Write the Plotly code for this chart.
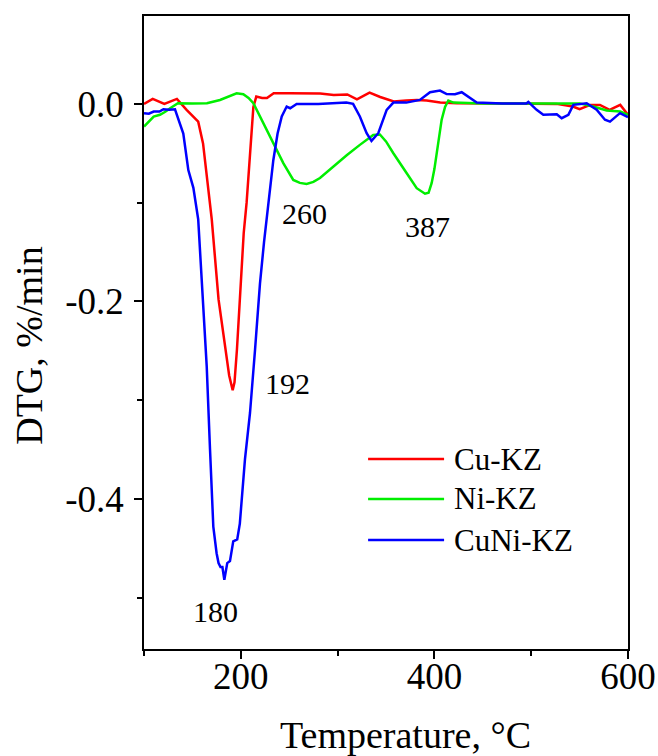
import plotly.graph_objects as go

# ---------------- data ----------------
cu_T = [100, 109, 121, 134, 144, 156, 161, 168, 170, 177, 184, 188, 191.6, 193.5, 196, 199, 203, 206, 208, 211,
        213, 216, 222, 227, 234, 250, 270, 282, 296, 310, 320, 333, 344, 358, 371, 382, 392, 406, 423, 450, 480,
        510, 526, 543, 550, 561, 571, 581, 592, 600]
cu_V = [0.0, 0.005, 0.0, 0.005, -0.006, -0.018, -0.04, -0.097, -0.117, -0.198, -0.249, -0.275, -0.290, -0.282,
        -0.249, -0.198, -0.131, -0.100, -0.07, -0.03, -0.003, 0.0074, 0.006, 0.006, 0.0108, 0.0108, 0.0105, 0.0105,
        0.009, 0.0096, 0.0047, 0.0114, 0.007, 0.0024, 0.0034, 0.004, 0.0034, 0.0014, 0.0007, 0.0005, 0.0005, 0.0,
        0.0, -0.0027, -0.0054, -0.001, -0.001, -0.006, -0.001, -0.011]

ni_T = [100, 105, 110, 116.5, 122, 127, 135, 150, 165, 178.5, 188, 195.7, 202.6, 208, 213, 218, 223.3, 233.6,
        243.9, 254.2, 261, 268, 275, 281.8, 295.6, 309.4, 323, 336.8, 343.7, 350, 357.6, 364, 371.4, 381.7, 390.3,
        394, 397.2, 400, 402.3, 405, 407.5, 411, 414.4, 419.6, 450, 500, 550, 564, 578, 592, 600]
ni_V = [-0.023, -0.018, -0.0128, -0.011, -0.008, -0.0044, 0.0007, 0.0005, 0.0007, 0.004, 0.008, 0.0108, 0.0098,
        0.006, 0.0007, -0.009, -0.0196, -0.0398, -0.060, -0.077, -0.080, -0.081, -0.079, -0.075, -0.063, -0.052,
        -0.0415, -0.0314, -0.031, -0.038, -0.050, -0.06, -0.0702, -0.0854, -0.091, -0.090, -0.080, -0.066, -0.050,
        -0.033, -0.016, -0.003, 0.0034, 0.0013, 0.0005, 0.0005, 0.0005, -0.0027, -0.0067, -0.0078, -0.011]

cuni_T = [100, 105, 110, 116, 120, 126, 132, 135.4, 140.6, 145.8, 151, 156, 159.6, 164.8, 168.2, 171.6, 175, 177,
          179, 181, 183, 185, 186, 188.8, 191, 192.2, 196.3, 199, 204.3, 209.5, 214.7, 219.8, 224, 228.4, 233.6,
          238, 242.3, 247.4, 251, 257.7, 280, 309, 316, 323, 330, 335, 342, 350.7, 357.6, 371, 385, 395.5, 405.8,
          412.7, 421.3, 428.2, 436.8, 443.7, 470, 495, 497, 505.6, 512.5, 520, 526.4, 531.5, 538.4, 543.5, 557.3,
          567.6, 576.2, 581.4, 591.7, 600]
cuni_V = [-0.0094, -0.010, -0.0078, -0.0078, -0.0054, -0.006, -0.0054, -0.016, -0.030, -0.067, -0.085, -0.117,
          -0.182, -0.266, -0.350, -0.428, -0.455, -0.465, -0.469, -0.469, -0.482, -0.47, -0.465, -0.463, -0.45,
          -0.443, -0.441, -0.425, -0.36, -0.313, -0.249, -0.182, -0.14, -0.1, -0.057, -0.03, -0.0128, -0.0027,
          -0.0044, 0.0, 0.0, 0.0013, 0.0, -0.0128, -0.0297, -0.0375, -0.0297, -0.006, 0.0013, 0.0013, 0.004,
          0.0118, 0.0135, 0.010, 0.0097, 0.0118, 0.0057, 0.0013, 0.0005, 0.0005, 0.002, -0.006, -0.011, -0.011,
          -0.0105, -0.0145, -0.011, -0.001, 0.0007, -0.006, -0.016, -0.018, -0.0094, -0.0135]

series_names = ["Cu-KZ", "Ni-KZ", "CuNi-KZ"]
series_colors = ["#ff0000", "#00ee00", "#0000ff"]

peak_labels = ["260", "387", "192", "180"]
peak_T = [266, 393, 248, 174]
peak_V = [-0.111, -0.1246, -0.2835, -0.514]

x_tickvals = [200, 400, 600]
x_ticktext = ["200", "400", "600"]
y_tickvals = [0.0, -0.2, -0.4]
y_ticktext = ["0.0", "-0.2", "-0.4"]

FONT = "Liberation Serif, Times New Roman, serif"

fig = go.Figure()
for T, V, name, col in zip([cu_T, ni_T, cuni_T], [cu_V, ni_V, cuni_V], series_names, series_colors):
    fig.add_trace(go.Scatter(x=T, y=V, mode="lines", name=name,
                             line=dict(color=col, width=2.5), showlegend=False))

# peak annotations
for lab, t, v in zip(peak_labels, peak_T, peak_V):
    fig.add_annotation(x=t, y=v, text=lab, showarrow=False,
                       font=dict(family=FONT, size=30, color="black"),
                       xanchor="center", yanchor="middle")

# custom legend (long sample lines as in the reference)
leg_y = [0.300, 0.237, 0.172]
for name, col, ly in zip(series_names, series_colors, leg_y):
    fig.add_shape(type="line", xref="paper", yref="paper", x0=0.463, x1=0.620, y0=ly, y1=ly,
                  line=dict(color=col, width=2.5))
    fig.add_annotation(xref="paper", yref="paper", x=0.636, y=ly, text=name, showarrow=False,
                       xanchor="left", yanchor="middle",
                       font=dict(family=FONT, size=31, color="black"))

# axis titles
fig.add_annotation(xref="paper", yref="paper", x=0.541, y=-0.136, text="Temperature, °C",
                   showarrow=False, xanchor="center", yanchor="middle",
                   font=dict(family=FONT, size=38, color="black"))
fig.add_annotation(xref="paper", yref="paper", x=-0.2376, y=0.479, text="DTG, %/min",
                   showarrow=False, xanchor="center", yanchor="middle", textangle=-90,
                   font=dict(family=FONT, size=38, color="black"))

fig.update_layout(
    width=658, height=756, autosize=False,
    margin=dict(l=144, r=30, t=16, b=107),
    paper_bgcolor="white", plot_bgcolor="white",
    font=dict(family=FONT, color="black"),
)
fig.update_xaxes(range=[100, 600], tickvals=x_tickvals, ticktext=x_ticktext, automargin=False,
                 showgrid=False, zeroline=False, showline=True, linecolor="black", linewidth=1.5,
                 mirror=True, ticks="outside", ticklen=8, tickwidth=1.5, tickcolor="black",
                 ticklabelstandoff=-14,
                 tickfont=dict(family=FONT, size=37, color="black"),
                 minor=dict(tickvals=[100, 300, 500], ticks="outside", ticklen=5, tickwidth=1.5,
                            tickcolor="black", showgrid=False))
fig.update_yaxes(range=[-0.552, 0.089], tickvals=y_tickvals, ticktext=y_ticktext, automargin=False,
                 showgrid=False, zeroline=False, showline=True, linecolor="black", linewidth=1.5,
                 mirror=True, ticks="outside", ticklen=8, tickwidth=1.5, tickcolor="black",
                 ticklabelstandoff=3,
                 tickfont=dict(family=FONT, size=37, color="black"),
                 minor=dict(tickvals=[-0.1, -0.3, -0.5], ticks="outside", ticklen=5, tickwidth=1.5,
                            tickcolor="black", showgrid=False))

post = "document.body.style.margin='0';document.body.style.overflow='hidden';"

fig.write_html("out.html", config={"displayModeBar": False, "responsive": False},
               post_script=post)
